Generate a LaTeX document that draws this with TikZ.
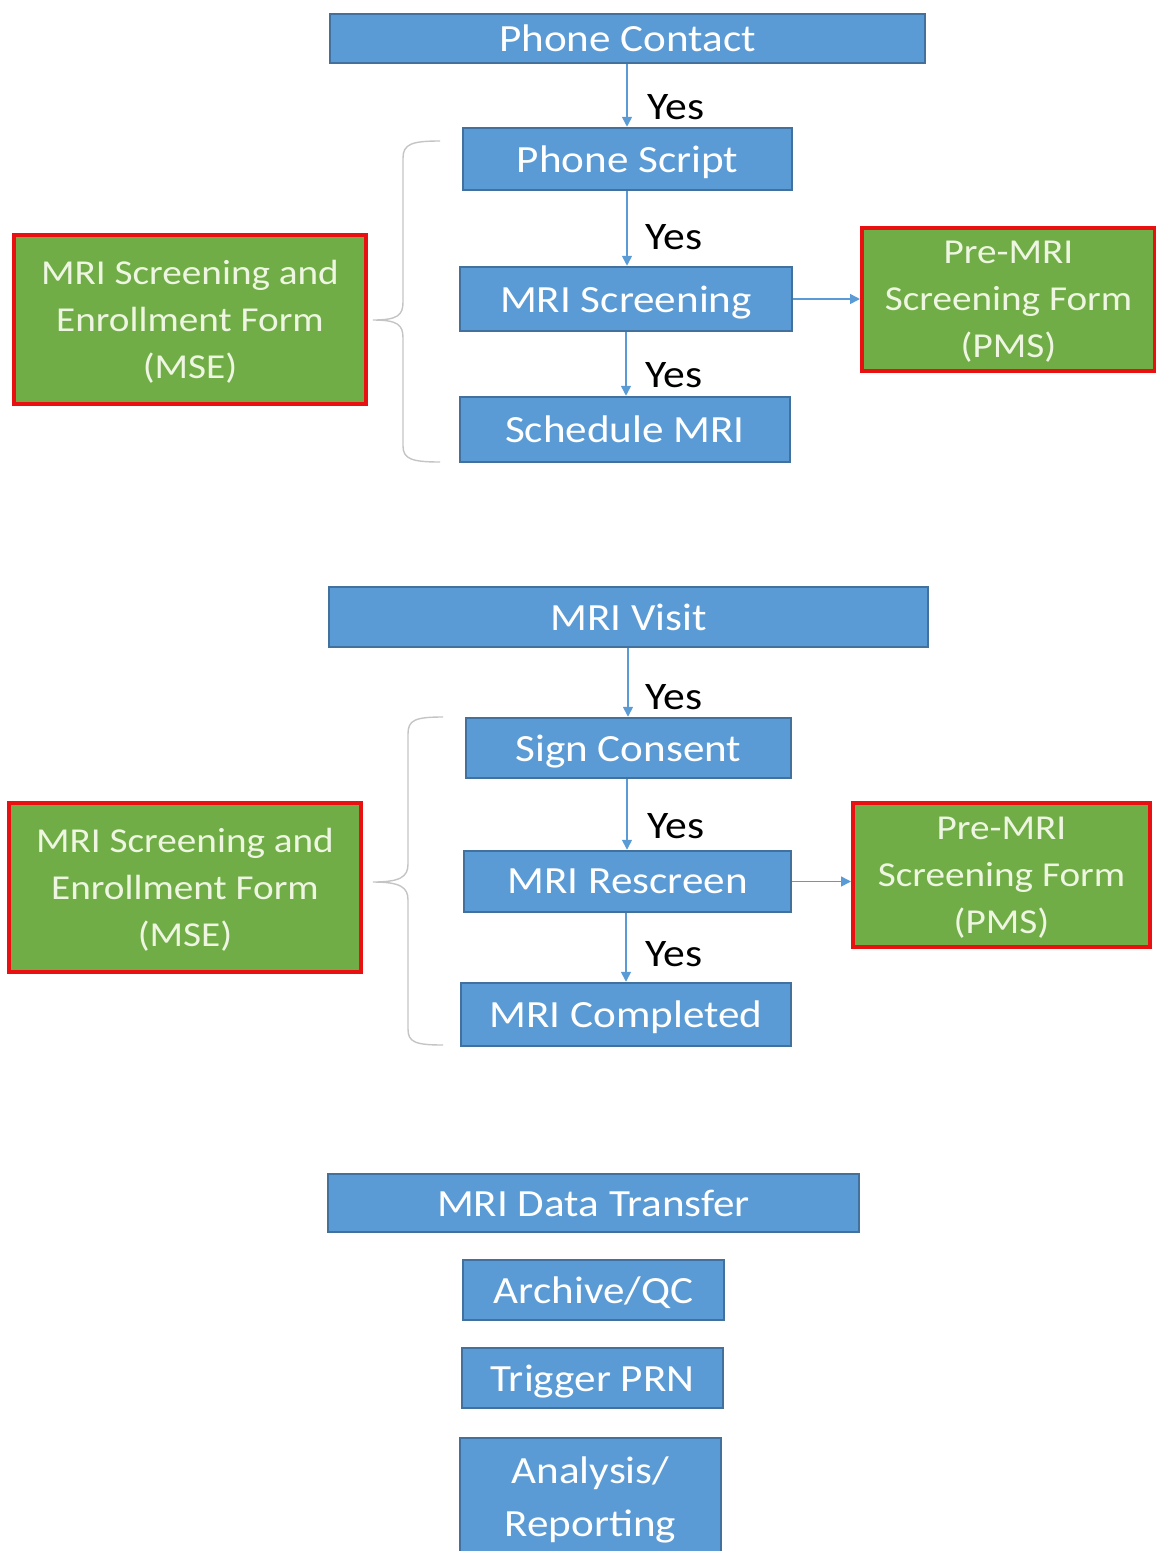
\documentclass[tikz,border=0pt]{standalone}
\usepackage{fontspec}
\setmainfont{Carlito}[FakeStretch=1.12]
\usetikzlibrary{arrows.meta}
\definecolor{boxblue}{HTML}{5B9BD5}
\definecolor{edgeblue}{HTML}{41719C}
\definecolor{formgreen}{HTML}{70AD47}
\definecolor{formred}{HTML}{E81010}
\definecolor{formtext}{HTML}{EEF6E2}
\definecolor{bracegray}{HTML}{C4C4C4}
\tikzset{
  x=1pt, y=-1pt,
  stepbox/.style={draw=edgeblue, line width=2.5pt, fill=boxblue, text=white,
    inner sep=0pt, align=center, text depth=0pt, font=\fontsize{38.5}{53}\selectfont},
  formbox/.style={draw=formred, line width=4pt, fill=formgreen, text=formtext,
    inner sep=0pt, align=center, text depth=0pt, font=\fontsize{35}{47}\selectfont},
  flow/.style={draw=boxblue, line width=1.6pt, -{Triangle[width=10pt,length=10pt]}},
  yeslabel/.style={anchor=west, inner sep=0pt, text=black, font=\fontsize{39}{44}\selectfont},
  bracket/.style={draw=bracegray, line width=1.4pt},
}
\begin{document}
\begin{tikzpicture}
\useasboundingbox (0,0) rectangle (1156,1551);

% --- screening by phone ---
\node[stepbox, minimum width=595pt, minimum height=49pt] (pc) at (627.5,38.5) {Phone Contact};
\node[stepbox, minimum width=329pt, minimum height=62pt] (ps) at (627.5,159) {Phone Script};
\node[stepbox, minimum width=332pt, minimum height=64pt] (ms) at (626,299) {MRI Screening};
\node[stepbox, minimum width=330pt, minimum height=65pt] (sm) at (625,429.5) {Schedule MRI};
\node[formbox, minimum width=293pt, minimum height=143pt] (pms1) at (1008.5,299.5) {Pre-MRI\\Screening Form\\(PMS)};
\node[formbox, minimum width=352pt, minimum height=169pt] (mse1) at (190,319.5) {MRI Screening and\\Enrollment Form\\(MSE)};

\draw[flow] (pc.south -| 627,0) -- (ps.north -| 627,0) node[yeslabel, pos=0.68, xshift=20pt] {Yes};
\draw[flow] (ps.south -| 627,0) -- (ms.north -| 627,0) node[yeslabel, pos=0.61, xshift=18pt] {Yes};
\draw[flow] (ms.south -| 626,0) -- (sm.north -| 626,0) node[yeslabel, pos=0.68, xshift=19pt] {Yes};
\draw[flow] (ms.east) -- (ms.east -| pms1.west);

\coordinate (tip1) at (373,320);
\draw[bracket] (440,141) .. controls (412,141) and (403,144) .. (403,158)
  -- (403,302) .. controls (403,315) and (398,320) .. (tip1)
  .. controls (398,320) and (403,325) .. (403,338)
  -- (403,446) .. controls (403,459) and (412,462) .. (440,462);

% --- MRI visit ---
\node[stepbox, minimum width=599pt, minimum height=60pt] (mv) at (628.5,617) {MRI Visit};
\node[stepbox, minimum width=325pt, minimum height=60pt] (sc) at (628.5,748) {Sign Consent};
\node[stepbox, minimum width=327pt, minimum height=61pt] (mr) at (627.5,881.5) {MRI Rescreen};
\node[stepbox, minimum width=330pt, minimum height=63pt] (mc) at (626,1014.5) {MRI Completed};
\node[formbox, minimum width=297pt, minimum height=144pt] (pms2) at (1001.5,875) {Pre-MRI\\Screening Form\\(PMS)};
\node[formbox, minimum width=352pt, minimum height=169pt] (mse2) at (185,887.5) {MRI Screening and\\Enrollment Form\\(MSE)};

\draw[flow] (mv.south -| 628,0) -- (sc.north -| 628,0) node[yeslabel, pos=0.72, xshift=17pt] {Yes};
\draw[flow] (sc.south -| 627,0) -- (mr.north -| 627,0) node[yeslabel, pos=0.66, xshift=20pt] {Yes};
\draw[flow] (mr.south -| 626,0) -- (mc.north -| 626,0) node[yeslabel, pos=0.6, xshift=19pt] {Yes};
\draw[flow] (mr.east) -- (mr.east -| pms2.west);

\coordinate (tip2) at (373,882);
\draw[bracket] (443,717) .. controls (415,717) and (408,720) .. (408,734)
  -- (408,864) .. controls (408,877) and (400,882) .. (tip2)
  .. controls (400,882) and (408,887) .. (408,900)
  -- (408,1029) .. controls (408,1042) and (415,1045) .. (443,1045);

% --- data handling ---
\node[stepbox, minimum width=531pt, minimum height=58pt] (dt) at (593.5,1203) {MRI Data Transfer};
\node[stepbox, minimum width=261pt, minimum height=60pt] (aq) at (593.5,1290) {Archive/QC};
\node[stepbox, minimum width=261pt, minimum height=60pt] (tp) at (592.5,1378) {Trigger PRN};
\node[stepbox, minimum width=261pt, minimum height=118pt] (ar) at (590.5,1497) {Analysis/\\Reporting};
\end{tikzpicture}
\end{document}
